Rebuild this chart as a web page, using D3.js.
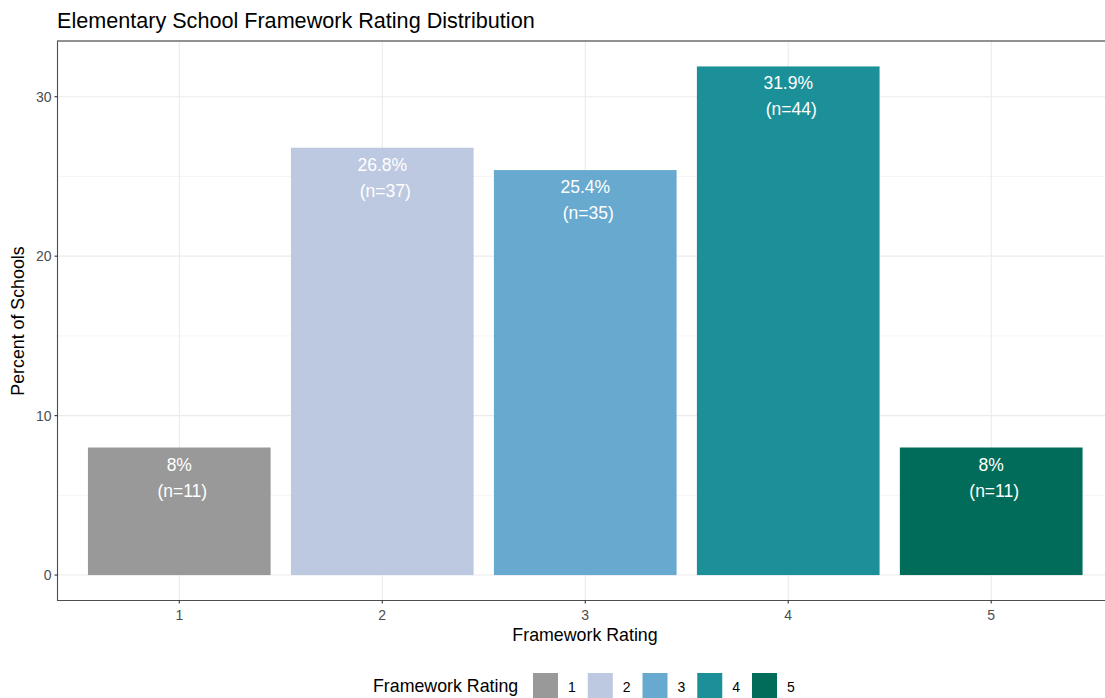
<!DOCTYPE html>
<html><head><meta charset="utf-8">
<script src="https://cdn.jsdelivr.net/npm/d3@7"></script>
<style>
body{margin:0;background:#fff;}
text{font-family:"Liberation Sans",Arial,sans-serif;}
</style></head>
<body>
<svg id="chart" width="1105" height="698"></svg>
<script>
const ratings = ["1","2","3","4","5"];
const percents = [8.0, 26.8, 25.4, 31.9, 8.0];
const counts = [11, 37, 35, 44, 11];
const pctLabels = ["8%","26.8%","25.4%","31.9%","8%"];
const colors = ["#999999","#BDC9E1","#67A9CF","#1C9099","#016C59"];
const yTicks = [0,10,20,30];
const yMinor = [5,15,25];

const svg = d3.select("#chart");
const panel = {left:57.5, top:41, right:1113, bottom:600.5};

const maxV = d3.max(percents);
const y = d3.scaleLinear().domain([-0.05*maxV, maxV*1.05]).range([panel.bottom, panel.top]);
const xl = d3.scaleLinear().domain([0.4, 5.6]).range([panel.left, panel.right]);
const xc = r => xl(+r);
const bw = xl(1.45) - xl(0.55);

const g = svg.append("g");
g.selectAll(".ymin").data(yMinor).join("line")
  .attr("x1", panel.left).attr("x2", panel.right)
  .attr("y1", d=>y(d)).attr("y2", d=>y(d))
  .attr("stroke","#EBEBEB").attr("stroke-width",0.55);
g.selectAll(".ymaj").data(yTicks).join("line")
  .attr("x1", panel.left).attr("x2", panel.right)
  .attr("y1", d=>y(d)).attr("y2", d=>y(d))
  .attr("stroke","#EBEBEB").attr("stroke-width",1.1);
g.selectAll(".xmaj").data(ratings).join("line")
  .attr("x1", d=>xc(d)).attr("x2", d=>xc(d))
  .attr("y1", panel.top).attr("y2", panel.bottom)
  .attr("stroke","#EBEBEB").attr("stroke-width",1.1);

g.selectAll(".bar").data(ratings).join("rect")
  .attr("x", (d)=>xc(d)-bw/2).attr("width", bw)
  .attr("y", (d,i)=>y(percents[i])).attr("height", (d,i)=>y(0)-y(percents[i]))
  .attr("fill", (d,i)=>colors[i]);

ratings.forEach((r,i)=>{
  const yt = y(percents[i]);
  g.append("text").attr("x", xc(r)).attr("y", yt+23)
    .attr("text-anchor","middle").attr("fill","#fff").attr("font-size",17.5)
    .text(pctLabels[i]);
  g.append("text").attr("x", xc(r)+3).attr("y", yt+49)
    .attr("text-anchor","middle").attr("fill","#fff").attr("font-size",17.5)
    .text("(n=" + counts[i] + ")");
});

g.append("path")
  .attr("d", `M${panel.right},${panel.top}H${panel.left}V${panel.bottom}H${panel.right}`)
  .attr("fill","none").attr("stroke","#4D4D4D").attr("stroke-width",1.1);
g.append("line").attr("x1",panel.left).attr("x2",panel.right).attr("y1",panel.top).attr("y2",panel.top)
  .attr("stroke","#7f7f7f").attr("stroke-width",1.1);

yTicks.forEach(t=>{
  g.append("line").attr("x1",panel.left-3).attr("x2",panel.left).attr("y1",y(t)).attr("y2",y(t))
    .attr("stroke","#333").attr("stroke-width",1.1);
  g.append("text").attr("x",panel.left-6).attr("y",y(t)+5).attr("text-anchor","end")
    .attr("fill","#4D4D4D").attr("font-size",14).text(t);
});
ratings.forEach(r=>{
  g.append("line").attr("x1",xc(r)).attr("x2",xc(r)).attr("y1",panel.bottom).attr("y2",panel.bottom+3)
    .attr("stroke","#333").attr("stroke-width",1.1);
  g.append("text").attr("x",xc(r)).attr("y",panel.bottom+19).attr("text-anchor","middle")
    .attr("fill","#4D4D4D").attr("font-size",14).text(r);
});

svg.append("text").attr("x",57).attr("y",28).attr("font-size",21.6).attr("fill","#000")
  .text("Elementary School Framework Rating Distribution");
svg.append("text").attr("x",585).attr("y",640.5).attr("text-anchor","middle").attr("font-size",17.8).attr("fill","#000")
  .text("Framework Rating");
svg.append("text").attr("transform","translate(23.5,321) rotate(-90)").attr("text-anchor","middle")
  .attr("font-size",17.8).attr("fill","#000").text("Percent of Schools");

const lg = svg.append("g");
lg.append("text").attr("x",373).attr("y",692).attr("font-size",17.8).attr("fill","#000").text("Framework Rating");
const legX = d3.scaleLinear().domain([1,5]).range([533,752]);
ratings.forEach((r,i)=>{
  lg.append("rect").attr("x",legX(+r)).attr("y",673).attr("width",25).attr("height",25).attr("fill",colors[i]);
  lg.append("text").attr("x",legX(+r)+35).attr("y",691.5).attr("font-size",14).attr("fill","#000").text(r);
});
</script>
</body></html>
